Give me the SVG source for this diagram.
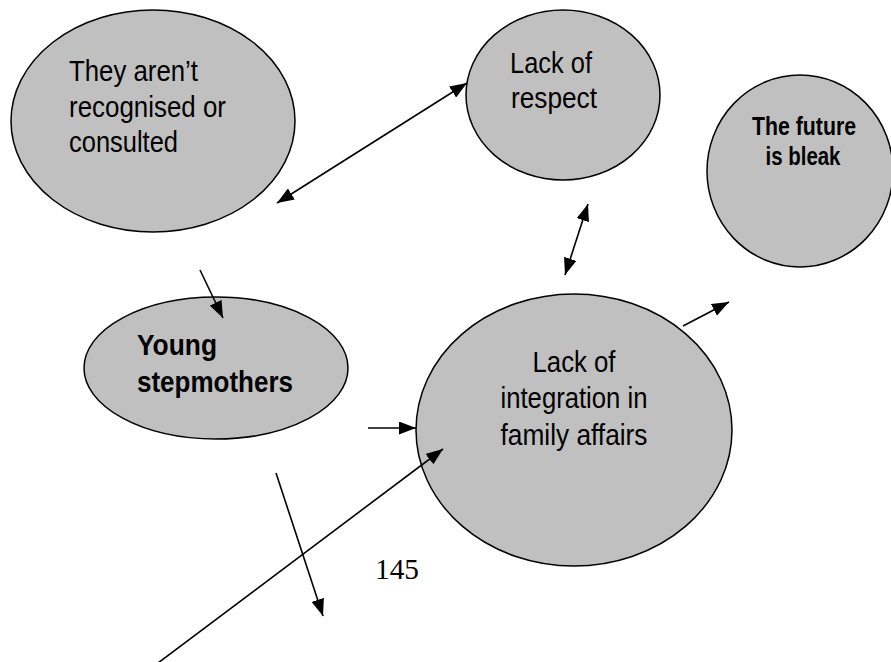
<svg xmlns="http://www.w3.org/2000/svg" width="891" height="662" viewBox="0 0 891 662">
<style>
.node ellipse{fill:#c0c0c0;stroke:#000;stroke-width:1.5}
.t{font-family:"Liberation Sans",Arial,sans-serif;font-size:30px;fill:#000}
.b{font-family:"Liberation Sans",Arial,sans-serif;font-weight:bold;fill:#000}
.c{text-anchor:middle}
.conn line{stroke:#000;stroke-width:1.6;fill:none}
.pg{font-family:"Liberation Serif","Times New Roman",serif;font-size:30px;fill:#000}
</style>
<defs>
<marker id="ah" viewBox="0 0 17 13" refX="17" refY="6.5" markerWidth="17" markerHeight="13" markerUnits="userSpaceOnUse" orient="auto-start-reverse">
<path d="M0,0 L17,6.5 L0,13 z" fill="#000"/>
</marker>
</defs>
<g id="n-not-recognised" class="node">
<ellipse cx="153" cy="121" rx="142" ry="111"/>
<text class="t" x="69" y="81" textLength="129" lengthAdjust="spacingAndGlyphs">They aren’t</text>
<text class="t" x="69" y="117" textLength="157" lengthAdjust="spacingAndGlyphs">recognised or</text>
<text class="t" x="69" y="152" textLength="109" lengthAdjust="spacingAndGlyphs">consulted</text>
</g>
<g id="n-respect" class="node">
<ellipse cx="563" cy="95" rx="97" ry="85"/>
<text class="t" x="510" y="73" textLength="82" lengthAdjust="spacingAndGlyphs">Lack of</text>
<text class="t" x="511" y="108" textLength="86" lengthAdjust="spacingAndGlyphs">respect</text>
</g>
<g id="n-future" class="node">
<ellipse cx="800" cy="171" rx="93" ry="96"/>
<text class="b c" x="804" y="135" font-size="25" textLength="104" lengthAdjust="spacingAndGlyphs">The future</text>
<text class="b c" x="803" y="165" font-size="25" textLength="75" lengthAdjust="spacingAndGlyphs">is bleak</text>
</g>
<g id="n-young" class="node">
<ellipse cx="216" cy="368" rx="132" ry="71"/>
<text class="b" x="137" y="355" font-size="30" textLength="80" lengthAdjust="spacingAndGlyphs">Young</text>
<text class="b" x="137" y="392" font-size="30" textLength="156" lengthAdjust="spacingAndGlyphs">stepmothers</text>
</g>
<g id="n-integration" class="node">
<ellipse cx="574" cy="430" rx="158" ry="136"/>
<text class="t c" x="574" y="372" textLength="83" lengthAdjust="spacingAndGlyphs">Lack of</text>
<text class="t c" x="574" y="408" textLength="147" lengthAdjust="spacingAndGlyphs">integration in</text>
<text class="t c" x="574" y="445" textLength="147" lengthAdjust="spacingAndGlyphs">family affairs</text>
</g>
<g id="connectors" class="conn">
<line x1="277" y1="203" x2="467" y2="83" marker-start="url(#ah)" marker-end="url(#ah)"/>
<line x1="588" y1="204" x2="565" y2="275" marker-start="url(#ah)" marker-end="url(#ah)"/>
<line x1="200" y1="270" x2="223" y2="318" marker-end="url(#ah)"/>
<line x1="683" y1="326" x2="729" y2="302" marker-end="url(#ah)"/>
<line x1="368" y1="428" x2="416" y2="428" marker-end="url(#ah)"/>
<line x1="158" y1="663" x2="443" y2="449" marker-end="url(#ah)"/>
<line x1="276" y1="473" x2="323" y2="616" marker-end="url(#ah)"/>
</g>
<text class="pg" x="375" y="579" textLength="44" lengthAdjust="spacingAndGlyphs">145</text>
</svg>
